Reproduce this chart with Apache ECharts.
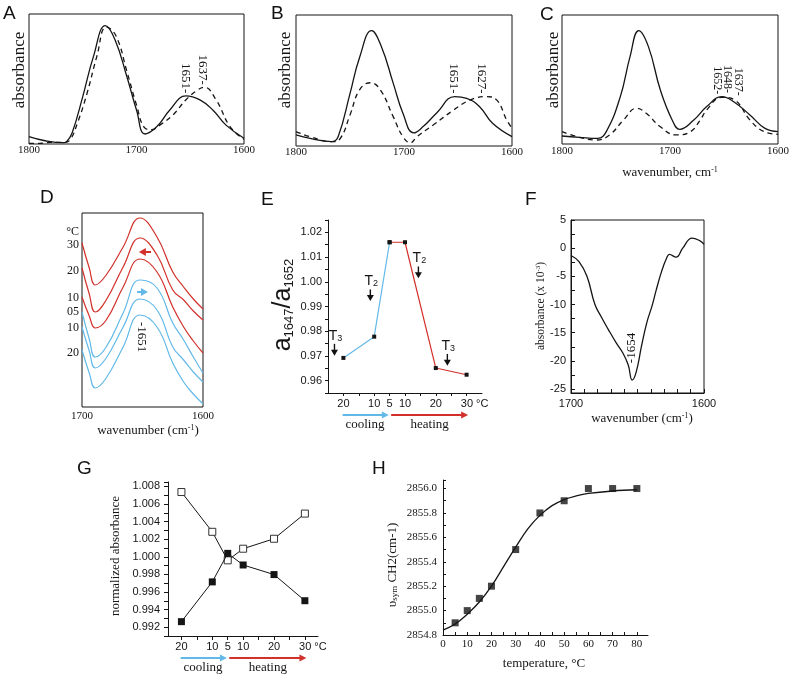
<!DOCTYPE html>
<html><head><meta charset="utf-8">
<script src="https://cdn.jsdelivr.net/npm/echarts@6/dist/echarts.min.js"></script>
<style>html,body{margin:0;padding:0;background:#fff}#c{width:793px;height:678px}</style>
</head><body><div id="c"></div>
<script>
// ---------------- DATA ----------------
// Panel A (wavenumber cm-1, absorbance a.u.)
const aSolidWn  = [1800,1785,1768,1765,1760,1750,1740,1729,1720,1709,1700,1692,1681,1669,1654,1641,1629,1617,1600];
const aSolidAbs = [0.057,0.025,0.010,0.018,0.082,0.365,0.674,0.910,0.802,0.519,0.262,0.077,0.134,0.262,0.370,0.339,0.262,0.147,0.044];
const aDashWn   = [1800,1790,1780,1768,1762,1755,1746,1737,1728,1719,1709,1700,1693,1686,1678,1666,1654,1644,1637,1626,1613,1600];
const aDashAbs  = [0.005,0.005,0.012,0.012,0.03,0.16,0.39,0.67,0.90,0.83,0.56,0.30,0.13,0.11,0.147,0.224,0.34,0.41,0.437,0.34,0.134,0.036];
// Panel B
const bSolidWn  = [1800,1787,1767,1761,1750,1741,1730,1721,1710,1701,1691,1682,1670,1653,1642,1630,1618,1600];
const bSolidAbs = [0.084,0.058,0.033,0.071,0.40,0.68,0.88,0.76,0.48,0.25,0.10,0.15,0.25,0.377,0.364,0.30,0.173,0.071];
const bDashWn   = [1800,1787,1767,1759,1750,1741,1731,1722,1710,1701,1694,1688,1673,1654,1639,1624,1614,1605,1600];
const bDashAbs  = [0.11,0.071,0.033,0.058,0.237,0.43,0.483,0.43,0.224,0.071,0.025,0.071,0.16,0.275,0.35,0.377,0.35,0.20,0.135];
// Panel C
const cSolidWn  = [1800,1784,1767,1759,1746,1737,1729,1720,1709,1698,1691,1678,1666,1652,1641,1626,1612,1600];
const cSolidAbs = [0.062,0.052,0.044,0.096,0.367,0.677,0.879,0.755,0.42,0.186,0.114,0.186,0.29,0.367,0.328,0.225,0.121,0.096];
const cDashWn   = [1800,1784,1768,1756,1743,1731,1722,1709,1694,1681,1672,1666,1652,1640,1626,1613,1600];
const cDashAbs  = [0.096,0.052,0.031,0.07,0.186,0.277,0.238,0.134,0.07,0.096,0.186,0.264,0.362,0.34,0.186,0.096,0.075];
// Panel D (stacked spectra, offset absorbance a.u.)
const dWn     = [1700,1694,1689,1680,1666,1652,1638,1625,1616,1608,1600];
const dRed30  = [164,139,122,132,160,189,170,135,120,108,98];
const dRed20  = [139,113,95,107,140,169,152,117,107,96,87];
const dRed10  = [110,91,79,87,120,148,135,100,80,66,54];
const dBlue05 = [95,68,50,60,94,127,119,84,67,50,34];
const dBlue10 = [80,56,39,49,80,108,97,60,47,35,25];
const dBlue20 = [57,34,19,29,60,92,80,44,25,13,3];
const dTempLabels = ['°C','30','20','10','05','10','20'];
// Panel E
const eStep       = [0,2,3,4,6,8];
const eStepLabels = ['20','10','5','10','20','30'];
const eRatio      = [0.9692,0.9778,1.016,1.016,0.9651,0.9624];
// Panel F
const fWn  = [1700,1694,1688,1682,1677,1672,1666,1661,1657,1654,1651,1647,1643,1639,1636,1632,1628,1626,1621,1616,1609,1603,1600];
const fAbs = [-1.3,-2.4,-5.0,-10.0,-12.3,-14.4,-16.8,-18.6,-20.7,-23.4,-22.0,-17.4,-13.2,-10.2,-7.5,-4.2,-1.7,-1.1,-1.6,0,1.8,1.3,0.7];
// Panel G
const gStep       = [0,2,3,4,6,8];
const gStepLabels = ['20','10','5','10','20','30'];
const gOpen   = [1.00736,1.00284,0.9996,1.00092,1.00205,1.00491];
const gFilled = [0.99263,0.99715,1.00039,0.99907,0.99798,0.99501];
// Panel H
const hTemp = [5,10,15,20,30,40,50,60,70,80];
const hWave = [2854.9,2855.0,2855.1,2855.2,2855.5,2855.8,2855.9,2856.0,2856.0,2856.0];
const hFitT = [0,5,10,15,20,25,30,35,40,45,50,55,60,70,80];
const hFitW = [2854.84,2854.89,2854.97,2855.07,2855.2,2855.36,2855.52,2855.67,2855.78,2855.86,2855.91,2855.94,2855.96,2855.98,2855.99];

// ---------------- CHART ----------------
const SERIF = 'Liberation Serif', SANS = 'Liberation Sans', BK = '#151515';
const RED = '#d2302a', BLUE = '#62b9e8';
const zip = (a,b) => a.map((v,i)=>[v,b[i]]);
const chart = echarts.init(document.getElementById('c'));

const boxed = {show:true, borderColor:BK, borderWidth:1, backgroundColor:'rgba(0,0,0,0)'};
const grids = [
  Object.assign({left:29, top:14, width:215, height:130}, boxed),
  Object.assign({left:296, top:15, width:216, height:131}, boxed),
  Object.assign({left:562, top:15, width:216, height:129}, boxed),
  Object.assign({left:82, top:213, width:121, height:194}, boxed),
  {left:328, top:220, width:154, height:173},
  Object.assign({left:571, top:220, width:133, height:173}, boxed),
  {left:168, top:482, width:150, height:154},
  {left:443, top:480, width:205, height:155}
];

const plain = v => String(v);
function specX(i, margin){
  return {gridIndex:i, type:'value', min:1600, max:1800, inverse:true, interval:100,
    axisLine:{show:false, onZero:false}, axisTick:{show:false}, splitLine:{show:false},
    axisLabel:{fontFamily:SERIF, fontSize:11, color:BK, margin:margin, showMinLabel:true, showMaxLabel:true, formatter:plain}};
}
function hidY(i, min, max){ return {gridIndex:i, type:'value', min:min, max:max, show:false, splitLine:{show:false}}; }
const axLine = {show:true, onZero:false, lineStyle:{color:BK, width:1}};

function stepLabel(steps, labels){
  return function(v){
    const k = steps.indexOf(Math.round(v));
    if (k < 0) return '';
    if (k === labels.length-1) return '{u|' + labels[k] + ' °C}';
    return labels[k];
  };
}

const xAxis = [
  specX(0,1), specX(1,1), specX(2,2),
  {gridIndex:3, type:'value', min:1600, max:1700, inverse:true, interval:100,
    axisLine:{show:false, onZero:false}, axisTick:{show:false}, splitLine:{show:false},
    axisLabel:{fontFamily:SERIF, fontSize:11, color:BK, margin:4, showMinLabel:true, showMaxLabel:true, formatter:plain}},
  {gridIndex:4, type:'value', min:-1, max:9, splitLine:{show:false}, axisLine:axLine,
    axisTick:{show:true, length:3, lineStyle:{color:BK}, customValues:[0,1,2,3,4,5,6,7,8]},
    axisLabel:{customValues:eStep, formatter:stepLabel(eStep, eStepLabels), fontFamily:SANS, fontSize:11, color:BK, margin:5,
      rich:{u:{fontFamily:SANS, fontSize:11, color:BK, padding:[0,0,0,16]}}}},
  {gridIndex:5, type:'value', min:1600, max:1700, inverse:true, interval:10, splitLine:{show:false},
    axisLine:axLine, axisTick:{show:true, inside:true, length:4, lineStyle:{color:BK}},
    axisLabel:{fontFamily:SANS, fontSize:11, color:BK, margin:5, showMinLabel:true, showMaxLabel:true,
      formatter:v => (v===1600||v===1700) ? String(v) : ''}},
  {gridIndex:6, type:'value', min:-0.87, max:8.85, splitLine:{show:false}, axisLine:axLine,
    axisTick:{show:true, length:4, lineStyle:{color:BK}, customValues:[0,1,2,3,4,5,6,7,8]},
    axisLabel:{customValues:gStep, formatter:stepLabel(gStep, gStepLabels), fontFamily:SANS, fontSize:11, color:BK, margin:5,
      rich:{u:{fontFamily:SANS, fontSize:11, color:BK, padding:[0,0,0,16]}}}},
  {gridIndex:7, type:'value', min:0, max:84.6, interval:5, splitLine:{show:false}, axisLine:axLine,
    axisTick:{show:true, inside:true, length:3, lineStyle:{color:BK}},
    axisLabel:{fontFamily:SERIF, fontSize:11, color:BK, margin:4, showMaxLabel:false,
      formatter:v => (Math.abs(v-Math.round(v))<1e-6 && Math.round(v)%10===0) ? String(Math.round(v)) : ''}}
];
const yAxis = [
  hidY(0,0,1), hidY(1,0,1), hidY(2,0,1), hidY(3,0,194),
  {gridIndex:4, type:'value', min:0.955, max:1.025, interval:0.005, splitLine:{show:false}, axisLine:axLine,
    axisTick:{show:true, length:3, lineStyle:{color:BK}},
    axisLabel:{fontFamily:SANS, fontSize:11, color:BK, margin:6,
      formatter:v => { const k=Math.round(v*1000); return k%10===0 ? (k/1000).toFixed(2) : ''; }}},
  {gridIndex:5, type:'value', min:-25.7, max:5, splitLine:{show:false}, axisLine:axLine,
    axisTick:{show:true, inside:true, length:4, lineStyle:{color:BK}, customValues:[-25,-22.5,-20,-17.5,-15,-12.5,-10,-7.5,-5,-2.5,0,2.5,5]},
    axisLabel:{fontFamily:SANS, fontSize:11, color:BK, margin:5, customValues:[-25,-20,-15,-10,-5,0,5], formatter:plain}},
  {gridIndex:6, type:'value', min:0.991, max:1.0085, interval:0.001, splitLine:{show:false}, axisLine:axLine,
    axisTick:{show:true, length:4, lineStyle:{color:BK}},
    axisLabel:{fontFamily:SANS, fontSize:11, color:BK, margin:8,
      formatter:v => { const k=Math.round(v*1000); return k%2===0 ? (k/1000).toFixed(3) : ''; }}},
  {gridIndex:7, type:'value', min:2854.8, max:2856.07, interval:0.1, splitLine:{show:false}, axisLine:axLine,
    axisTick:{show:true, inside:true, length:3, lineStyle:{color:BK}},
    axisLabel:{fontFamily:SERIF, fontSize:11, color:BK, margin:6,
      formatter:v => { const k=Math.round(v*10); return k%2===0 ? (k/10).toFixed(1) : ''; }}}
];

function curve(i, wn, vals, color, dashed, width){
  return {type:'line', xAxisIndex:i, yAxisIndex:i, data:zip(wn, vals), showSymbol:false, smooth:0.45,
    lineStyle:{color:color, width:width||1.3, type: dashed ? [5,4] : 'solid'}, silent:true, z:3};
}
const series = [
  curve(0, aSolidWn, aSolidAbs, BK, false), curve(0, aDashWn, aDashAbs, BK, true),
  curve(1, bSolidWn, bSolidAbs, BK, false), curve(1, bDashWn, bDashAbs, BK, true),
  curve(2, cSolidWn, cSolidAbs, BK, false), curve(2, cDashWn, cDashAbs, BK, true),
  curve(3, dWn, dRed30, RED, false, 1.2), curve(3, dWn, dRed20, RED, false, 1.2), curve(3, dWn, dRed10, RED, false, 1.2),
  curve(3, dWn, dBlue05, BLUE, false, 1.2), curve(3, dWn, dBlue10, BLUE, false, 1.2), curve(3, dWn, dBlue20, BLUE, false, 1.2),
  {type:'line', xAxisIndex:4, yAxisIndex:4, data:zip(eStep.slice(0,3), eRatio.slice(0,3)), symbol:'rect', symbolSize:4,
    itemStyle:{color:BK}, lineStyle:{color:BLUE, width:1.2}, z:3},
  {type:'line', xAxisIndex:4, yAxisIndex:4, data:zip(eStep.slice(2), eRatio.slice(2)), symbol:'rect', symbolSize:4,
    itemStyle:{color:BK}, lineStyle:{color:RED, width:1.2}, z:3},
  curve(5, fWn, fAbs, BK, false, 1.3),
  {type:'line', xAxisIndex:6, yAxisIndex:6, data:zip(gStep, gOpen), symbol:'rect', symbolSize:7,
    itemStyle:{color:'#fff', borderColor:'#333', borderWidth:1}, lineStyle:{color:BK, width:1}, z:3},
  {type:'line', xAxisIndex:6, yAxisIndex:6, data:zip(gStep, gFilled), symbol:'rect', symbolSize:7,
    itemStyle:{color:BK}, lineStyle:{color:BK, width:1}, z:4},
  {type:'line', xAxisIndex:7, yAxisIndex:7, data:zip(hFitT, hFitW), showSymbol:false, smooth:0.4,
    lineStyle:{color:BK, width:1.3}, z:3},
  {type:'scatter', xAxisIndex:7, yAxisIndex:7, data:zip(hTemp, hWave), symbol:'rect', symbolSize:7,
    itemStyle:{color:BK}, z:4}
];

chart.setOption({animation:false, backgroundColor:'#fff', grid:grids, xAxis:xAxis, yAxis:yAxis, series:series});

// ---------------- ANNOTATIONS ----------------
const px = (gi, x, y) => chart.convertToPixel({gridIndex:gi}, [x, y]);
const G = [];
function txt(x, y, text, o){
  o = o || {};
  G.push({type:'text', x:x, y:y, rotation:o.rot||0, z:100, silent:true,
    style:{text:text, fill:o.color||BK, fontSize:o.size||12, fontFamily:o.family||SERIF,
      align:o.align||'center', verticalAlign:o.va||'middle', textAlign:o.align||'center', textVerticalAlign:o.va||'middle',
      rich:o.rich}});
}
function arrow(p1, p2, color, lw, hl, hw){
  const dx=p2[0]-p1[0], dy=p2[1]-p1[1], L=Math.hypot(dx,dy), ux=dx/L, uy=dy/L;
  const bx=p2[0]-ux*hl, by=p2[1]-uy*hl;
  G.push({type:'line', z:100, silent:true, shape:{x1:p1[0],y1:p1[1],x2:bx+ux*1,y2:by+uy*1}, style:{stroke:color, lineWidth:lw}});
  G.push({type:'polygon', z:100, silent:true, shape:{points:[[p2[0],p2[1]],[bx-uy*hw/2, by+ux*hw/2],[bx+uy*hw/2, by-ux*hw/2]]}, style:{fill:color}});
}
// panel letters
[['A',3,4],['B',271,4],['C',540,5],['D',40,188],['E',261,190],['F',525,190],['G',77,459],['H',372,459]]
  .forEach(l => txt(l[1], l[2], l[0], {size:19, family:SANS, align:'left', va:'top', color:'#111'}));
// y titles A-C
[[20,70],[286,70],[554,70]].forEach(p => txt(p[0], p[1], 'absorbance', {size:17, rot:Math.PI/2}));
const supRich = {s:{fontSize:8, fontFamily:SERIF, fill:BK, color:BK, verticalAlign:'top', padding:[0,0,6,0]},
                 n:{fontSize:13, fontFamily:SERIF, fill:BK, color:BK}};
txt(670, 173, '{n|wavenumber, cm}{s|-1}', {rich:supRich});
txt(148, 431, '{n|wavenumber (cm}{s|-1}{n|)}', {rich:supRich});
txt(642, 419, '{n|wavenumber (cm}{s|-1}{n|)}', {rich:supRich});
const supRich11 = {s:{fontSize:7, fontFamily:SERIF, fill:BK, color:BK, verticalAlign:'top', padding:[0,0,5,0]},
                   n:{fontSize:11.5, fontFamily:SERIF, fill:BK, color:BK}};
txt(541, 306, '{n|absorbance (x 10}{s|-3}{n|)}', {rich:supRich11, rot:Math.PI/2});
txt(116, 556, 'normalized absorbance', {size:13, rot:Math.PI/2});
txt(544, 664, 'temperature, °C', {size:13});
txt(393, 565, '{n|υ}{b|sym}{n| CH2(cm-1)}', {rot:Math.PI/2, rich:{
  n:{fontSize:13, fontFamily:SERIF, fill:BK, color:BK},
  b:{fontSize:9, fontFamily:SERIF, fill:BK, color:BK, verticalAlign:'bottom', padding:[4,0,0,0]}}});
// E y title
txt(283, 305, '{a|a}{s|1647}{a|/a}{s|1652}', {rot:Math.PI/2, rich:{
  a:{fontSize:25, fontFamily:SANS, fill:BK, color:BK, lineHeight:26},
  s:{fontSize:13, fontFamily:SANS, fill:BK, color:BK, verticalAlign:'bottom', lineHeight:14, padding:[8,0,0,0]}}});

// peak labels (rotated), anchored near the curve
function peakCW(gi, wn, v, t, size){ const p = px(gi, wn, v); txt(p[0], p[1], t, {rot:-Math.PI/2, align:'right', size:size}); }
peakCW(0, 1654.5, 0.39, '1651-', 13); peakCW(0, 1639, 0.455, '1637-', 13);
peakCW(1, 1653.8, 0.40, '1651-', 13); peakCW(1, 1628.3, 0.40, '1627-', 13);
peakCW(2, 1656, 0.385, '1652-', 12); peakCW(2, 1646.7, 0.395, '1648-', 12); peakCW(2, 1636.5, 0.375, '1637-', 12);
(function(){ const p = px(3, 1650.7, 85); txt(p[0], p[1], '-1651', {rot:-Math.PI/2, align:'left', size:13}); })();
(function(){ const p = px(5, 1654.4, -20.4); txt(p[0], p[1], '-1654', {rot:Math.PI/2, align:'left', size:13}); })();

// D temperature labels & arrows
const dTempY = [175,162,136,109,95,79,54];
dTempLabels.forEach((t,i) => { const p = px(3, 1700, dTempY[i]); txt(p[0]-3, p[1], t, {size:12, align:'right'}); });
arrow(px(3,1643,155), px(3,1653,155), RED, 2, 7, 8);
arrow(px(3,1654.5,115), px(3,1645.5,115), BLUE, 2, 7, 8);

// E transition arrows
const eMarks = [['3',-0.58,0.9749,0.9701],['2',1.75,0.9969,0.9922],['2',4.87,1.0062,1.0014],['3',6.75,0.9708,0.9660]];
eMarks.forEach(m => {
  const a = px(4, m[1], m[2]), b = px(4, m[1], m[3]);
  arrow([a[0], a[1]], [b[0], b[1]], '#111', 1.4, 6, 7);
  txt(a[0]+1, a[1]-1, '{t|T}{s|' + m[0] + '}', {va:'bottom', rich:{
    t:{fontSize:14, fontFamily:SANS, fill:BK, color:BK, lineHeight:14},
    s:{fontSize:9, fontFamily:SANS, fill:BK, color:BK, verticalAlign:'bottom', lineHeight:9, padding:[6,0,0,0]}}});
});

// cooling / heating arrows under E and G
function coolHeat(gi, yMin){
  const y0 = px(gi, 0, yMin)[1];
  const ya = y0 + 22, yt = y0 + 32;
  arrow([px(gi,-0.05,yMin)[0], ya], [px(gi,2.95,yMin)[0], ya], BLUE, 2, 7, 7);
  arrow([px(gi,3.1,yMin)[0], ya], [px(gi,8.1,yMin)[0], ya], RED, 2, 7, 7);
  txt(px(gi,1.4,yMin)[0], yt, 'cooling', {size:13});
  txt(px(gi,5.6,yMin)[0], yt, 'heating', {size:13});
}
coolHeat(4, 0.955);
coolHeat(6, 0.991);

chart.setOption({graphic:{elements:G}});
</script></body></html>
